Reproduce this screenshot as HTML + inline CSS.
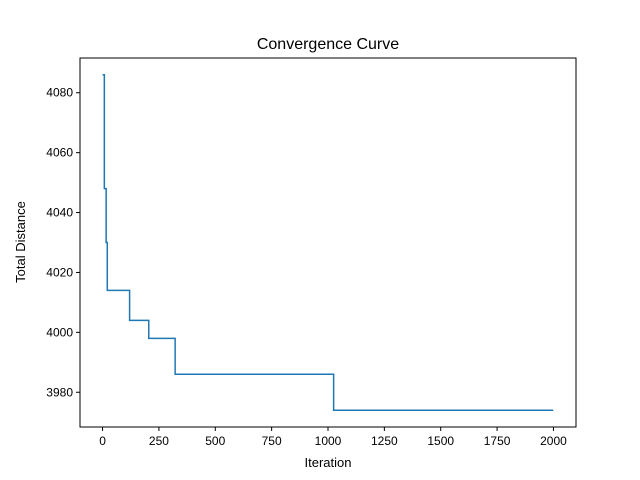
<!DOCTYPE html>
<html><head><meta charset="utf-8"><style>
body{margin:0;background:#fff}
svg{display:block;font-family:"Liberation Sans","DejaVu Sans",sans-serif}
</style></head><body>
<svg id="chart" width="640" height="480" viewBox="0 0 640 480">
<rect width="640" height="480" fill="#fff"/>
<text x="328" y="49" font-size="16" text-anchor="middle">Convergence Curve</text>
<g id="plot"></g>
<rect x="80" y="58" width="496" height="369" fill="none" stroke="#000" stroke-width="1"/>
<text x="328" y="467" font-size="13" text-anchor="middle">Iteration</text>
<text transform="translate(25,242) rotate(-90)" font-size="13" text-anchor="middle">Total Distance</text>
</svg>
<script>
const stepIters=[0,8,16,21,120,205,322,1025];
const stepValues=[4086,4048,4030,4014,4004,3998,3986,3974];
const lastIter=1999;
const xTicks=[0,250,500,750,1000,1250,1500,1750,2000];
const yTicks=[3980,4000,4020,4040,4060,4080];
const X0=80,X1=576,Y0=58,Y1=427,xmin=-100,xmax=2100,ymin=3968.4,ymax=4091.6;
const sx=v=>X0+(v-xmin)/(xmax-xmin)*(X1-X0);
const sy=v=>Y1-(v-ymin)/(ymax-ymin)*(Y1-Y0);
const ns="http://www.w3.org/2000/svg";
const g=document.getElementById('plot');
function mk(t,a){const e=document.createElementNS(ns,t);for(const k in a)e.setAttribute(k,a[k]);g.appendChild(e);return e;}
xTicks.forEach(t=>{
 const l=mk('line',{x1:sx(t),x2:sx(t),y1:Y1,y2:Y1+4,stroke:'#000'});
 
 
 const tx=mk('text',{x:sx(t),y:Y1+18,'font-size':12,'text-anchor':'middle'});
 tx.textContent=t;
 
 
});
yTicks.forEach(t=>{
 const l=mk('line',{x1:X0-4,x2:X0,y1:sy(t),y2:sy(t),stroke:'#000'});
 
 
 const tx=mk('text',{x:X0-7,y:sy(t)+4,'font-size':12,'text-anchor':'end'});
 tx.textContent=t;
 
 
});
let d='';
stepIters.forEach((it,i)=>{
 const next=i+1<stepIters.length?stepIters[i+1]:lastIter;
 d+=(i===0?'M':'L')+sx(it)+' '+sy(stepValues[i])+' L'+sx(next)+' '+sy(stepValues[i])+' ';
});
const p=mk('path',{d:d,fill:'none',stroke:'#1f77b4','stroke-width':1.5});


</script>
</body></html>
